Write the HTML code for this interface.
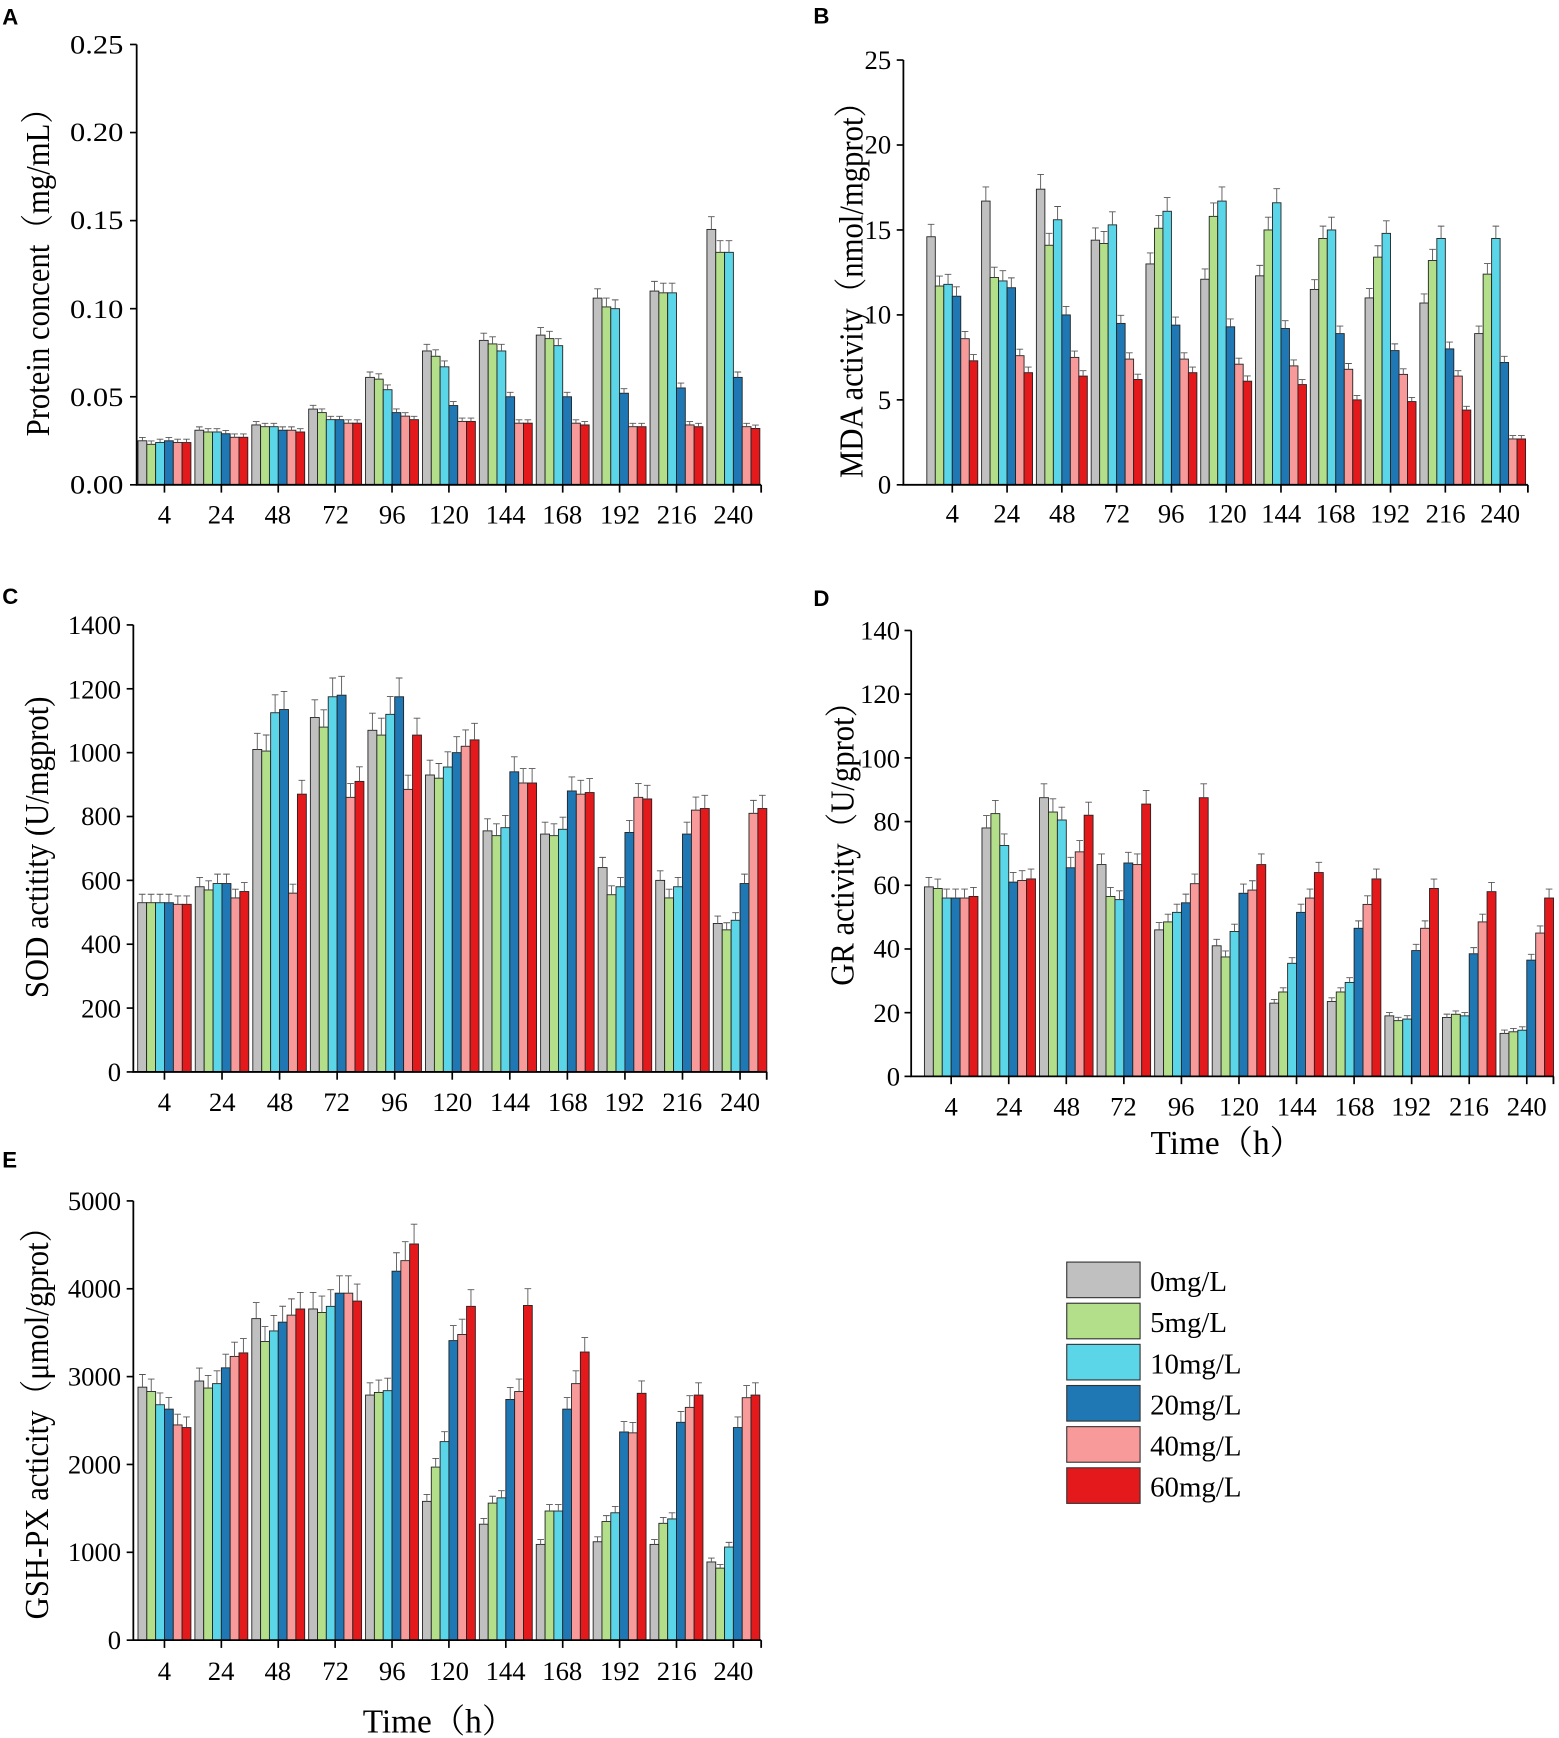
<!DOCTYPE html>
<html><head><meta charset="utf-8"><style>
html,body{margin:0;padding:0;background:#fff;}
svg{display:block;}
text{font-family:"Liberation Serif","Noto Serif CJK SC",serif;fill:#000;}
.t{font-size:24px;}
.yl{font-size:30px;}
.p{font-family:"Liberation Sans",sans-serif;font-weight:bold;font-size:20px;}
</style></head><body>
<svg id="s" width="1559" height="1738" viewBox="0 0 1403 1563" preserveAspectRatio="none" xmlns="http://www.w3.org/2000/svg">
<g id="bars"></g>
<text class="p" x="2" y="22">A</text>
<text class="p" x="732" y="21">B</text>
<text class="p" x="2" y="543">C</text>
<text class="p" x="732" y="545">D</text>
<text class="p" x="2" y="1050">E</text>

<g class="t" text-anchor="end">
<text x="111" y="444" textLength="48" lengthAdjust="spacingAndGlyphs">0.00</text><text x="111" y="365" textLength="48" lengthAdjust="spacingAndGlyphs">0.05</text><text x="111" y="286" textLength="48" lengthAdjust="spacingAndGlyphs">0.10</text><text x="111" y="206" textLength="48" lengthAdjust="spacingAndGlyphs">0.15</text><text x="111" y="127" textLength="48" lengthAdjust="spacingAndGlyphs">0.20</text><text x="111" y="48" textLength="48" lengthAdjust="spacingAndGlyphs">0.25</text>
<text x="802" y="444">0</text><text x="802" y="368">5</text><text x="802" y="291">10</text><text x="802" y="215">15</text><text x="802" y="138">20</text><text x="802" y="62">25</text>
<text x="109" y="972">0</text><text x="109" y="915">200</text><text x="109" y="857">400</text><text x="109" y="800">600</text><text x="109" y="742">800</text><text x="109" y="685">1000</text><text x="109" y="628">1200</text><text x="109" y="570">1400</text>
<text x="810" y="976">0</text><text x="810" y="919">20</text><text x="810" y="861">40</text><text x="810" y="804">60</text><text x="810" y="747">80</text><text x="810" y="690">100</text><text x="810" y="632">120</text><text x="810" y="575">140</text>
<text x="109" y="1483">0</text><text x="109" y="1404">1000</text><text x="109" y="1325">2000</text><text x="109" y="1246">3000</text><text x="109" y="1167">4000</text><text x="109" y="1088">5000</text>
</g>
<g class="t" text-anchor="middle">
<text x="148" y="471">4</text><text x="199" y="471">24</text><text x="250" y="471">48</text><text x="302" y="471">72</text><text x="353" y="471">96</text><text x="404" y="471">120</text><text x="455" y="471">144</text><text x="506" y="471">168</text><text x="558" y="471">192</text><text x="609" y="471">216</text><text x="660" y="471">240</text>
<text x="857" y="470">4</text><text x="906" y="470">24</text><text x="956" y="470">48</text><text x="1005" y="470">72</text><text x="1054" y="470">96</text><text x="1104" y="470">120</text><text x="1153" y="470">144</text><text x="1202" y="470">168</text><text x="1251" y="470">192</text><text x="1301" y="470">216</text><text x="1350" y="470">240</text>
<text x="148" y="999">4</text><text x="200" y="999">24</text><text x="252" y="999">48</text><text x="303" y="999">72</text><text x="355" y="999">96</text><text x="407" y="999">120</text><text x="459" y="999">144</text><text x="511" y="999">168</text><text x="562" y="999">192</text><text x="614" y="999">216</text><text x="666" y="999">240</text>
<text x="856" y="1003">4</text><text x="908" y="1003">24</text><text x="960" y="1003">48</text><text x="1011" y="1003">72</text><text x="1063" y="1003">96</text><text x="1115" y="1003">120</text><text x="1167" y="1003">144</text><text x="1219" y="1003">168</text><text x="1270" y="1003">192</text><text x="1322" y="1003">216</text><text x="1374" y="1003">240</text>
<text x="148" y="1511">4</text><text x="199" y="1511">24</text><text x="250" y="1511">48</text><text x="302" y="1511">72</text><text x="353" y="1511">96</text><text x="404" y="1511">120</text><text x="455" y="1511">144</text><text x="506" y="1511">168</text><text x="558" y="1511">192</text><text x="609" y="1511">216</text><text x="660" y="1511">240</text>
</g>
<g class="yl" text-anchor="middle">
<text transform="translate(44,238) rotate(-90) scale(0.92,1)">Protein concent（mg/mL）</text>
<text transform="translate(776,254) rotate(-90) scale(0.92,1)">MDA activity（nmol/mgprot）</text>
<text transform="translate(43,762) rotate(-90) scale(0.92,1)">SOD actitity (U/mgprot)</text>
<text transform="translate(768,752) rotate(-90) scale(0.92,1)">GR activity（U/gprot）</text>
<text transform="translate(43,1273) rotate(-90) scale(0.92,1)">GSH-PX acticity（μmol/gprot）</text>
</g>
<text x="1104" y="1038" text-anchor="middle" style="font-size:30px">Time（h）</text>
<text x="395" y="1558" text-anchor="middle" style="font-size:30px">Time（h）</text>
<g style="font-size:26px">
<rect x="960" y="1135" width="66" height="32" fill="#c0c0c0" stroke="#333"/><text x="1035" y="1161">0mg/L</text>
<rect x="960" y="1172" width="66" height="32" fill="#b3de8a" stroke="#333"/><text x="1035" y="1198">5mg/L</text>
<rect x="960" y="1209" width="66" height="32" fill="#5ad6e8" stroke="#333"/><text x="1035" y="1235">10mg/L</text>
<rect x="960" y="1246" width="66" height="32" fill="#1f77b4" stroke="#333"/><text x="1035" y="1272">20mg/L</text>
<rect x="960" y="1283" width="66" height="32" fill="#f89a9a" stroke="#333"/><text x="1035" y="1309">40mg/L</text>
<rect x="960" y="1320" width="66" height="32" fill="#e3191c" stroke="#333"/><text x="1035" y="1346">60mg/L</text>
</g>
</svg>
<script>
const C=["#c0c0c0","#b3de8a","#5ad6e8","#1f77b4","#f89a9a","#e3191c"];
const P=[
{ax:123,y0:436,yt:40,max:0.25,step:0.05,xe:685,c0:148,dx:51.2,d:[
[.025,.023,.024,.025,.024,.024],[.031,.030,.030,.029,.027,.027],[.034,.033,.033,.031,.031,.030],[.043,.041,.037,.037,.035,.035],[.061,.060,.054,.041,.039,.037],[.076,.073,.067,.045,.036,.036],[.082,.080,.076,.050,.035,.035],[.085,.083,.079,.050,.035,.034],[.106,.101,.100,.052,.033,.033],[.110,.109,.109,.055,.034,.033],[.145,.132,.132,.061,.033,.032]]},
{ax:813,y0:436,yt:54,max:25,step:5,xe:1375,c0:857,dx:49.3,d:[
[14.6,11.7,11.8,11.1,8.6,7.3],[16.7,12.2,12.0,11.6,7.6,6.6],[17.4,14.1,15.6,10.0,7.5,6.4],[14.4,14.2,15.3,9.5,7.4,6.2],[13.0,15.1,16.1,9.4,7.4,6.6],[12.1,15.8,16.7,9.3,7.1,6.1],[12.3,15.0,16.6,9.2,7.0,5.9],[11.5,14.5,15.0,8.9,6.8,5.0],[11.0,13.4,14.8,7.9,6.5,4.9],[10.7,13.2,14.5,8.0,6.4,4.4],[8.9,12.4,14.5,7.2,2.7,2.7]]},
{ax:120,y0:964,yt:562,max:1400,step:200,xe:690,c0:148,dx:51.8,d:[
[530,530,530,530,525,525],[580,570,590,590,545,565],[1010,1005,1125,1135,560,870],[1110,1080,1175,1180,860,910],[1070,1055,1120,1175,885,1055],[930,920,955,1000,1020,1040],[755,740,765,940,905,905],[745,740,760,880,870,875],[640,555,580,750,860,855],[600,545,580,745,820,825],[465,445,475,590,810,825]]},
{ax:820,y0:968,yt:567,max:140,step:20,xe:1398,c0:856,dx:51.8,d:[
[59.5,59,56,56,56,56.5],[78,82.5,72.5,61,61.5,62],[87.5,83,80.5,65.5,70.5,82],[66.5,56.5,55.5,67,66.5,85.5],[46,48.5,51.5,54.5,60.5,87.5],[41,37.5,45.5,57.5,58.5,66.5],[23,26.5,35.5,51.5,56,64],[23.5,26.5,29.5,46.5,54,62],[19,17.5,18,39.5,46.5,59],[18.5,19.5,19,38.5,48.5,58],[13.5,14,14.5,36.5,45,56]]},
{ax:120,y0:1475,yt:1080,max:5000,step:1000,xe:685,c0:148,dx:51.2,d:[
[2880,2830,2680,2630,2450,2420],[2950,2870,2920,3100,3230,3270],[3660,3400,3520,3620,3700,3770],[3770,3730,3800,3950,3950,3860],[2790,2820,2840,4200,4320,4510],[1580,1970,2260,3410,3480,3800],[1320,1560,1620,2740,2830,3810],[1090,1470,1470,2630,2920,3280],[1120,1350,1450,2370,2360,2810],[1090,1330,1380,2480,2650,2790],[890,820,1060,2420,2760,2790]]}
];
let h="";
P.forEach(p=>{
 const sc=(p.y0-p.yt)/p.max, bw=p.dx*0.155;
 p.d.forEach((g,i)=>{
  const cx=p.c0+i*p.dx, x0=cx-3*bw;
  g.forEach((v,j)=>{
   const x=x0+j*bw, y=p.y0-v*sc, e=Math.max(3,v*sc*0.05);
   h+=`<rect x="${x}" y="${y}" width="${bw}" height="${v*sc}" fill="${C[j]}" stroke="#222" stroke-width="0.8"/>`;
   h+=`<path d="M${x+bw/2} ${y} V${y-e} M${x+bw/2-3} ${y-e} H${x+bw/2+3}" stroke="#555" stroke-width="0.8" fill="none"/>`;
  });
  h+=`<line x1="${cx}" y1="${p.y0}" x2="${cx}" y2="${p.y0+7}" stroke="#000" stroke-width="1.5"/>`;
 });
 h+=`<path d="M${p.ax} ${p.yt} V${p.y0} H${p.xe} M${p.xe} ${p.y0} v7" stroke="#000" stroke-width="1.6" fill="none"/>`;
 for(let t=0;t<=p.max+1e-9;t+=p.step){const y=p.y0-t*sc;h+=`<line x1="${p.ax-6}" y1="${y}" x2="${p.ax}" y2="${y}" stroke="#000" stroke-width="1.5"/>`;}
});
document.getElementById("bars").innerHTML=h;
</script>
</body></html>
